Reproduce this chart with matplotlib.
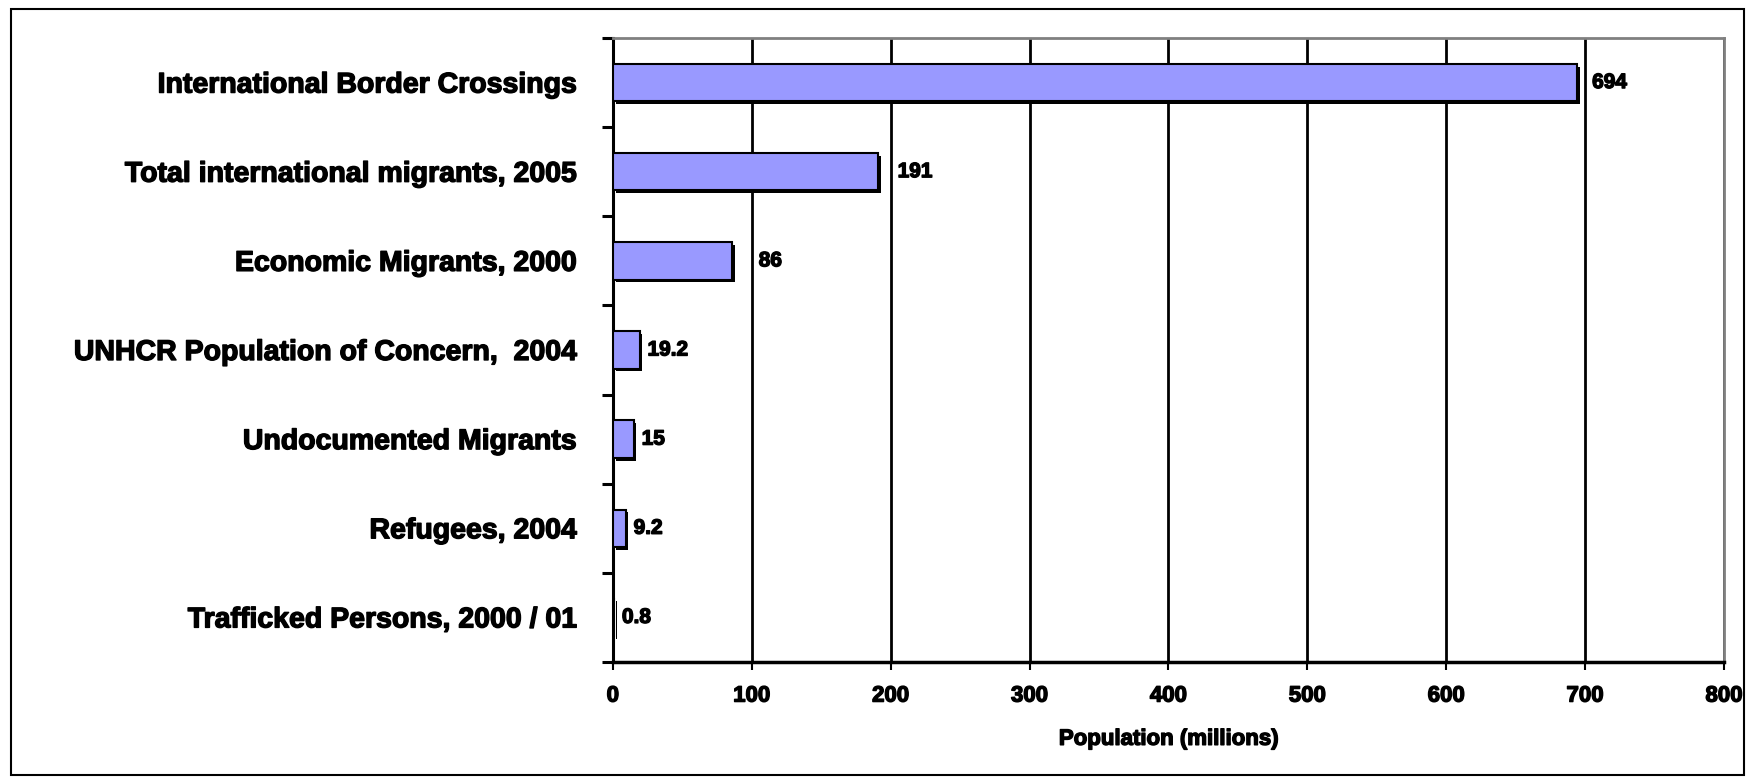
import matplotlib
matplotlib.use('Agg')
import matplotlib.pyplot as plt
import matplotlib.patheffects as pe
from matplotlib.patches import Rectangle
import numpy as np

# Data
categories = ['International Border Crossings',
              'Total international migrants, 2005',
              'Economic Migrants, 2000',
              'UNHCR Population of Concern,  2004',
              'Undocumented Migrants',
              'Refugees, 2004',
              'Trafficked Persons, 2000 / 01']
values = [694, 191, 86, 19.2, 15, 9.2, 0.8]
value_labels = ['694', '191', '86', '19.2', '15', '9.2', '0.8']
x_ticks = [0, 100, 200, 300, 400, 500, 600, 700, 800]

plt.rcParams['font.family'] = ['Liberation Sans', 'DejaVu Sans']
plt.rcParams['font.weight'] = 'bold'

# heavier look for the text, like the original export
heavy = [pe.withStroke(linewidth=1.0, foreground='black')]

fig = plt.figure(figsize=(17.51, 7.80), dpi=100)
ax = fig.add_axes([0.350, 0.1513, 0.6346, 0.80])

# outer frame around the whole picture
fig.patches.append(Rectangle((0.006, 0.006), 0.99, 0.982, transform=fig.transFigure,
                             fill=False, edgecolor='black', linewidth=1.5))

y = np.arange(len(categories))
bars = ax.barh(y, values, height=0.42, color='#9999FF', edgecolor='black', linewidth=1.5,
               zorder=3)
for b in bars:
    b.set_path_effects([pe.SimplePatchShadow(offset=(2, -2), shadow_rgbFace='black', alpha=1.0),
                        pe.Normal()])

ax.set_xlim(0, 800)
ax.set_ylim(len(categories) - 0.5, -0.5)

ax.set_xticks(x_ticks)
ax.set_xticklabels([str(t) for t in x_ticks], fontsize=16, fontweight='bold')
ax.tick_params(axis='x', direction='out', length=6, width=1.5, pad=11)

ax.set_yticks(y)
ax.set_yticklabels(categories, fontsize=20.5, fontweight='bold')
ax.tick_params(axis='y', which='major', length=0, pad=26)
ax.set_yticks(np.arange(len(categories) + 1) - 0.5, minor=True)
ax.tick_params(axis='y', which='minor', direction='out', length=8, width=2.2)

for t in ax.get_xticklabels() + ax.get_yticklabels():
    t.set_path_effects(heavy)

ax.set_xlabel('Population (millions)', fontsize=16, fontweight='bold', labelpad=16,
              path_effects=heavy)

ax.grid(axis='x', color='black', linewidth=2, zorder=0)
ax.set_axisbelow(True)

ax.spines['left'].set_linewidth(2.2)
ax.spines['bottom'].set_linewidth(2.5)
ax.spines['top'].set_color('#808080')
ax.spines['top'].set_linewidth(2)
ax.spines['right'].set_color('#808080')
ax.spines['right'].set_linewidth(2)

# value labels: a little right of the bar, pushed past any gridline they would sit on
fig.canvas.draw()
renderer = fig.canvas.get_renderer()
grid_px = [ax.transData.transform((t, 0))[0] for t in x_ticks]
for yi, v, lab in zip(y, values, value_labels):
    txt = ax.annotate(lab, xy=(v, yi), xytext=(8, 0), textcoords='offset pixels',
                      va='center', ha='left', fontsize=15, fontweight='bold',
                      path_effects=heavy)
    ext = txt.get_window_extent(renderer)
    x_end = ax.transData.transform((v, 0))[0]
    off = 8
    for gx in grid_px:
        if ext.x0 - 3 < gx < ext.x1 + 3:
            off = gx + 7 - x_end
    txt.set_position((off, 0))

fig.savefig('out.png', dpi=100)
